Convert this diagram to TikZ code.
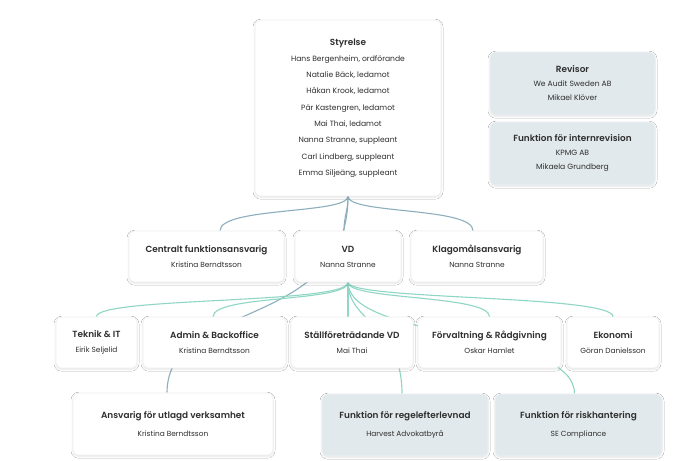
\documentclass[tikz,border=0pt]{standalone}
\usepackage{fontspec}
\setmainfont{Poppins}[BoldFont={Poppins SemiBold}]
\usetikzlibrary{shadows.blur,backgrounds}
\definecolor{linkblue}{HTML}{8DAFBD}
\definecolor{linkgreen}{HTML}{8FD6C4}
\definecolor{boxgray}{HTML}{E2E9EC}
\definecolor{boxgrayedge}{HTML}{EBF0F2}
\definecolor{inktext}{HTML}{2E2E2E}
\newcommand\boxtitle{\fontsize{8.9}{\baselineskip}\selectfont\bfseries}
\tikzset{
  wbox/.style={fill=white, draw=black!6, line width=0.6pt, rounded corners=6pt,
    align=center, inner sep=0pt, text=inktext,
    blur shadow={shadow xshift=0pt, shadow yshift=-1.2pt, shadow blur radius=2pt, shadow opacity=12}},
  gbox/.style={wbox, fill=boxgray, draw=boxgrayedge},
  rowbox/.style={minimum height=51, font=\fontsize{7.4}{15}\selectfont},
  lowbox/.style={minimum height=62, font=\fontsize{7.4}{18}\selectfont},
  bluelink/.style={draw=linkblue, line width=1.1pt},
  greenlink/.style={draw=linkgreen, line width=1.1pt}
}
\begin{document}
\begin{tikzpicture}[x=1pt,y=-1pt]
\useasboundingbox (0,0) rectangle (700,460);
% top
\node[wbox, minimum width=186, minimum height=176, font=\fontsize{7.6}{16.3}\selectfont] (sty) at (348,108)
  {{\boxtitle Styrelse}\\Hans Bergenheim, ordförande\\Natalie Bäck, ledamot\\Håkan Krook, ledamot\\Pär Kastengren, ledamot\\Mai Thai, ledamot\\Nanna Stranne, suppleant\\Carl Lindberg, suppleant\\Emma Siljeäng, suppleant};
\node[gbox, minimum width=165, minimum height=63, font=\fontsize{7.6}{14}\selectfont] (rev) at (572.5,83.5)
  {{\boxtitle Revisor}\\We Audit Sweden AB\\Mikael Klöver};
\node[gbox, minimum width=165, minimum height=63, font=\fontsize{7.6}{14}\selectfont] (intr) at (572.5,153.5)
  {{\boxtitle Funktion för internrevision}\\KPMG AB\\Mikaela Grundberg};
% row 2
\node[wbox, rowbox, minimum width=155] (cen) at (206.5,256.5) {{\boxtitle Centralt funktionsansvarig}\\Kristina Berndtsson};
\node[wbox, rowbox, minimum width=106] (vd) at (348,256.5) {{\boxtitle VD}\\Nanna Stranne};
\node[wbox, rowbox, minimum width=132] (klag) at (477,256.5) {{\boxtitle Klagomålsansvarig}\\Nanna Stranne};
% row 3
\node[wbox, rowbox, minimum width=81] (tek) at (96.5,342.5) {{\boxtitle Teknik \& IT}\\Eirik Seljelid};
\node[wbox, rowbox, minimum width=143] (adm) at (214.5,342.5) {{\boxtitle Admin \& Backoffice}\\Kristina Berndtsson};
\node[wbox, rowbox, minimum width=122] (st) at (352,342.5) {{\boxtitle Ställföreträdande VD}\\Mai Thai};
\node[wbox, rowbox, minimum width=143] (forv) at (489.5,342.5) {{\boxtitle Förvaltning \& Rådgivning}\\Oskar Hamlet};
\node[wbox, rowbox, minimum width=92] (eko) at (613,342.5) {{\boxtitle Ekonomi}\\Göran Danielsson};
% row 4
\node[wbox, lowbox, minimum width=200] (ans) at (173,424) {{\boxtitle Ansvarig för utlagd verksamhet}\\Kristina Berndtsson};
\node[gbox, lowbox, minimum width=166] (reg) at (405,425) {{\boxtitle Funktion för regelefterlevnad}\\Harvest Advokatbyrå};
\node[gbox, lowbox, minimum width=167] (risk) at (578.5,425) {{\boxtitle Funktion för riskhantering}\\SE Compliance};
% connectors
\begin{pgfonlayer}{background}
\fill[white] (0,0) rectangle (700,460);
\draw[bluelink] (sty.south) .. controls +(0,18) and +(0,-24) .. ([xshift=13.5pt]cen.north);
\draw[bluelink] (sty.south) .. controls +(0,18) and +(0,-24) .. ([xshift=-4pt]klag.north);
\draw[bluelink] (sty.south) .. controls +(0,15) and +(0,-15) .. ([xshift=-4pt]vd.north);
\draw[bluelink] (sty.south) .. controls +(0,135) and +(0,-93) .. ([xshift=-6pt]ans.north);
\draw[greenlink] (vd.south) .. controls +(0,22) and +(0,-20) .. (tek.north);
\draw[greenlink] (vd.south) .. controls +(0,20) and +(0,-22) .. ([xshift=-1.5pt]adm.north);
\draw[greenlink] (vd.south) -- (vd.south |- st.north);
\draw[greenlink] (vd.south) .. controls +(0,40) and +(0,-70) .. ([xshift=-3pt]reg.north);
\draw[greenlink] (vd.south) .. controls +(0,18) and +(0,-22) .. (forv.north);
\draw[greenlink] (vd.south) .. controls +(0,18) and +(0,-22) .. (eko.north);
\draw[greenlink] (vd.south) .. controls +(0,58) and +(0,-64) .. ([xshift=-4pt]risk.north);
\end{pgfonlayer}
\end{tikzpicture}
\end{document}
